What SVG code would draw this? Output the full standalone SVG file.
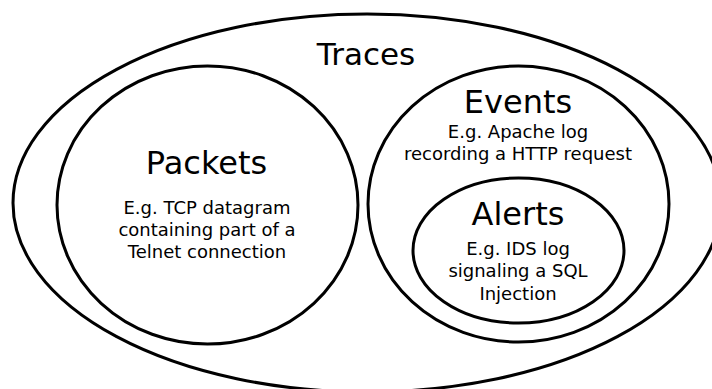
<svg xmlns="http://www.w3.org/2000/svg" width="712" height="389" viewBox="0 0 712 389">
<style>
.shape{fill:none;stroke:#000;stroke-width:3}
.title{font-family:"DejaVu Sans",sans-serif;font-size:32px;text-anchor:middle;fill:#000}
.sub{font-family:"DejaVu Sans",sans-serif;font-size:18px;text-anchor:middle;fill:#000}
</style>
<rect width="712" height="389" fill="#fff"/>
<g id="traces">
<ellipse class="shape" cx="367" cy="203" rx="354" ry="189"/>
<text class="title" x="366" y="65" style="font-size:31px">Traces</text>
</g>
<g id="packets">
<ellipse class="shape" cx="207.5" cy="205" rx="150.5" ry="139"/>
<text class="title" x="206.5" y="174">Packets</text>
<text class="sub" x="207" y="213.5">E.g. TCP datagram</text>
<text class="sub" x="207" y="236">containing part of a</text>
<text class="sub" x="207" y="258">Telnet connection</text>
</g>
<g id="events">
<ellipse class="shape" cx="518.5" cy="204" rx="150.5" ry="138"/>
<text class="title" x="518" y="113">Events</text>
<text class="sub" x="518" y="138">E.g. Apache log</text>
<text class="sub" x="518" y="160">recording a HTTP request</text>
</g>
<g id="alerts">
<ellipse class="shape" cx="518.5" cy="250.5" rx="105.5" ry="72.5"/>
<text class="title" x="518" y="225">Alerts</text>
<text class="sub" x="518" y="255">E.g. IDS log</text>
<text class="sub" x="518" y="277">signaling a SQL</text>
<text class="sub" x="518" y="300">Injection</text>
</g>
<g id="connectors"/>
</svg>
